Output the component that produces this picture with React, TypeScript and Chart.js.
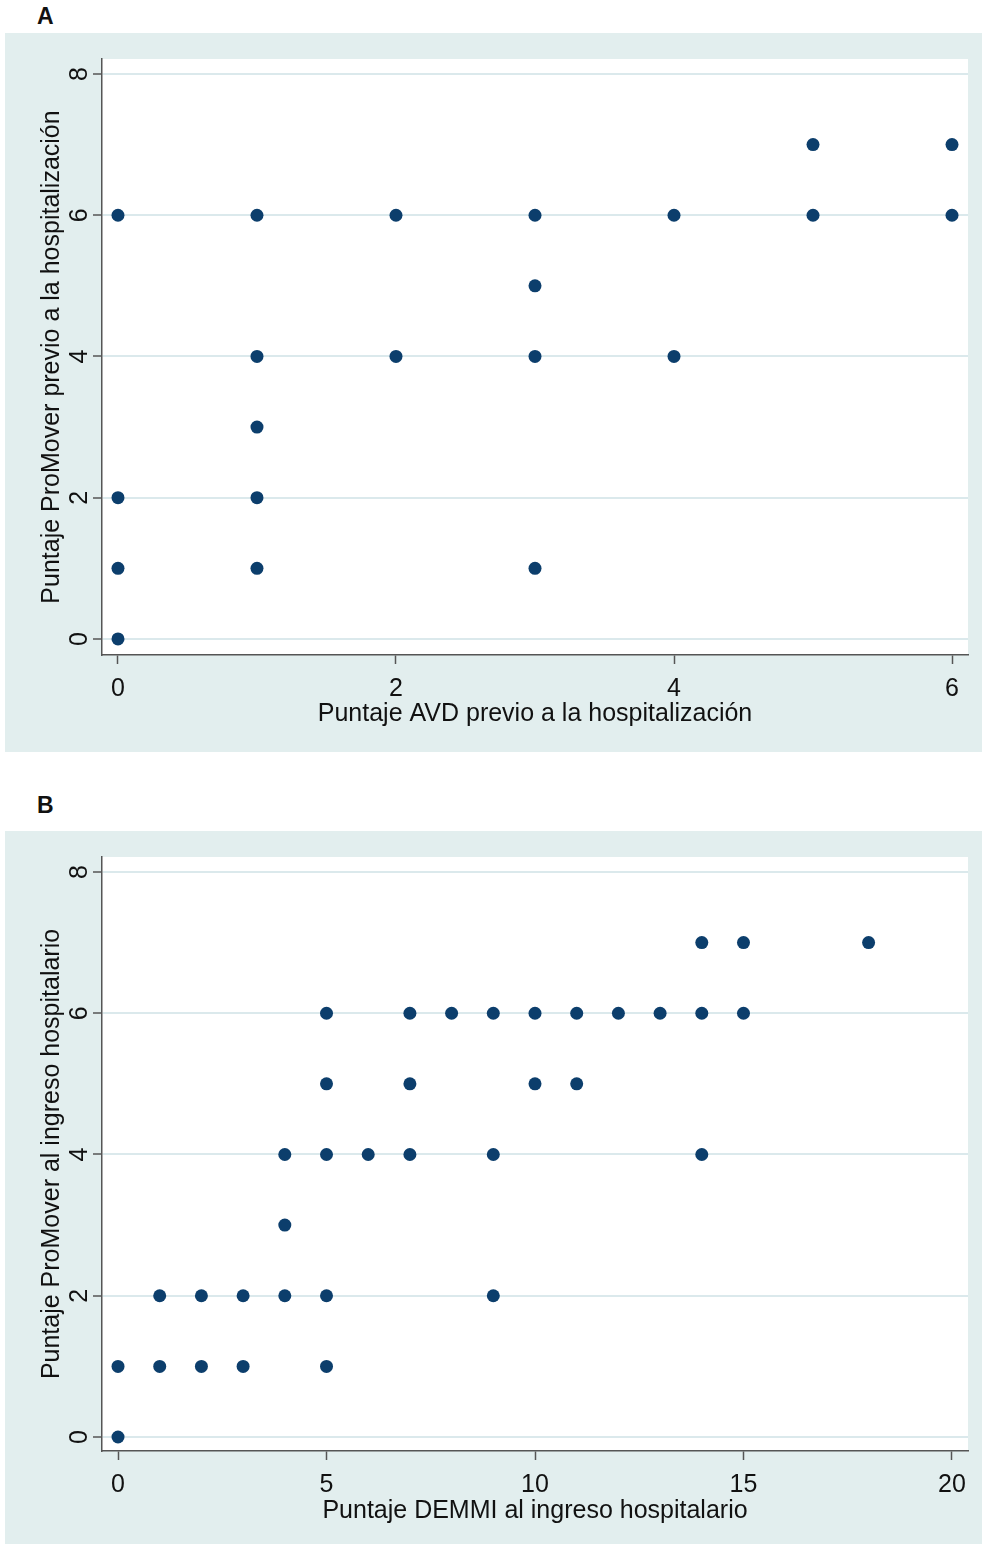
import React, { useEffect, useRef } from 'react';
import { Chart, registerables } from 'chart.js';

Chart.register(...registerables);

// Panel A data: ADL score (x) vs ProMover score (y) before hospitalization
const panelAX = [0, 0, 0, 0, 1, 1, 1, 1, 1, 2, 2, 3, 3, 3, 3, 4, 4, 5, 5, 6, 6];
const panelAY = [6, 2, 1, 0, 6, 4, 3, 2, 1, 6, 4, 6, 5, 4, 1, 6, 4, 7, 6, 7, 6];

// Panel B data: DEMMI score (x) vs ProMover score (y) at admission
const panelBX = [0, 0, 1, 1, 2, 2, 3, 3, 4, 4, 4, 5, 5, 5, 5, 5, 6, 7, 7, 7, 8, 9, 9, 9, 10, 10, 11, 11, 12, 13, 14, 14, 14, 15, 15, 18];
const panelBY = [1, 0, 2, 1, 2, 1, 2, 1, 4, 3, 2, 6, 5, 4, 2, 1, 4, 6, 5, 4, 6, 6, 4, 2, 6, 5, 6, 5, 6, 6, 7, 6, 4, 7, 6, 7];

const panelAXTicks = [0, 2, 4, 6];
const panelBXTicks = [0, 5, 10, 15, 20];
const yTicks = [0, 2, 4, 6, 8];

const panelATitles = ['Puntaje AVD previo a la hospitalización', 'Puntaje ProMover previo a la hospitalización'];
const panelBTitles = ['Puntaje DEMMI al ingreso hospitalario', 'Puntaje ProMover al ingreso hospitalario'];

const PANEL_BG = '#e2eeee';
const GRID = '#dbe9ec';
const AXIS = '#555555';
const DOT = '#0c3e6c';
const TEXT = '#111111';
const FONT_FAMILY = '"Liberation Sans", Arial, Helvetica, sans-serif';

const bgPlugin = {
  id: 'panelBg',
  beforeDraw(chart: any) {
    const { ctx, chartArea: ca, width, height } = chart;
    ctx.save();
    ctx.fillStyle = PANEL_BG;
    ctx.fillRect(0, 0, width, height);
    ctx.fillStyle = '#ffffff';
    ctx.fillRect(ca.left, ca.top, ca.right - ca.left, ca.bottom - ca.top);
    ctx.restore();
  },
};

function makeConfig(
  xs: number[],
  ys: number[],
  xTicks: number[],
  titles: string[],
  xRange: number[],
  yRange: number[],
  xScaleHeight: number,
  xTitlePad: number,
  xTickPad: number
): any {
  const font = { family: FONT_FAMILY, size: 25 };
  return {
    type: 'scatter',
    data: {
      datasets: [
        {
          data: xs.map((x, i) => ({ x, y: ys[i] })),
          backgroundColor: DOT,
          borderColor: DOT,
          pointRadius: 6.5,
          pointBorderWidth: 0,
        },
      ],
    },
    options: {
      animation: false,
      responsive: false,
      maintainAspectRatio: false,
      devicePixelRatio: 1,
      layout: { padding: { left: 0, top: 26, right: 14, bottom: 0 } },
      plugins: { legend: { display: false }, tooltip: { enabled: false } },
      scales: {
        x: {
          type: 'linear',
          min: xRange[0],
          max: xRange[1],
          afterBuildTicks: (s: any) => {
            s.ticks = xTicks.map((v) => ({ value: v }));
          },
          afterFit: (s: any) => {
            s.height = xScaleHeight;
          },
          grid: {
            drawOnChartArea: false,
            drawTicks: true,
            tickLength: 9,
            tickColor: AXIS,
            tickWidth: 1.5,
          },
          border: { display: true, color: AXIS, width: 1.5 },
          ticks: { color: TEXT, font, padding: xTickPad, maxRotation: 0, autoSkip: false },
          title: { display: true, text: titles[0], color: TEXT, font, padding: { top: 0, bottom: xTitlePad } },
        },
        y: {
          type: 'linear',
          min: yRange[0],
          max: yRange[1],
          afterBuildTicks: (s: any) => {
            s.ticks = yTicks.map((v) => ({ value: v }));
          },
          afterFit: (s: any) => {
            s.width = 97;
          },
          grid: {
            color: GRID,
            lineWidth: 2,
            drawTicks: true,
            tickLength: 9,
            tickColor: AXIS,
            tickWidth: 1.5,
          },
          border: { display: true, color: AXIS, width: 1.5 },
          ticks: {
            color: TEXT,
            font,
            padding: 6,
            minRotation: 90,
            maxRotation: 90,
            crossAlign: 'center',
            autoSkip: false,
          },
          title: { display: true, text: titles[1], color: TEXT, font, padding: { top: 32, bottom: 0 } },
        },
      },
    },
    plugins: [bgPlugin],
  };
}

function Panel(props: { config: any; left: number; top: number; width: number; height: number }) {
  const ref = useRef<HTMLCanvasElement | null>(null);
  useEffect(() => {
    if (!ref.current) return;
    const chart = new Chart(ref.current, props.config);
    return () => chart.destroy();
  }, []);
  return (
    <canvas
      ref={ref}
      width={props.width}
      height={props.height}
      style={{
        position: 'absolute',
        left: props.left,
        top: props.top,
        width: props.width,
        height: props.height,
      }}
    />
  );
}

const labelStyle: React.CSSProperties = {
  position: 'absolute',
  fontFamily: FONT_FAMILY,
  fontWeight: 'bold',
  fontSize: 23,
  lineHeight: '23px',
  color: '#111',
};

export default function App() {
  const configA = makeConfig(panelAX, panelAY, panelAXTicks, panelATitles, [-0.115, 6.115], [-0.227, 8.212], 97, 23, 10);
  const configB = makeConfig(panelBX, panelBY, panelBXTicks, panelBTitles, [-0.384, 20.384], [-0.198, 8.212], 93, 18, 10);
  return (
    <div style={{ position: 'absolute', left: 0, top: 0, width: 982, height: 1544, background: '#ffffff', overflow: 'hidden' }}>
      <div style={{ ...labelStyle, left: 37, top: 5 }}>A</div>
      <Panel config={configA} left={5} top={33} width={977} height={719} />
      <div style={{ ...labelStyle, left: 37, top: 794 }}>B</div>
      <Panel config={configB} left={5} top={831} width={977} height={713} />
    </div>
  );
}
